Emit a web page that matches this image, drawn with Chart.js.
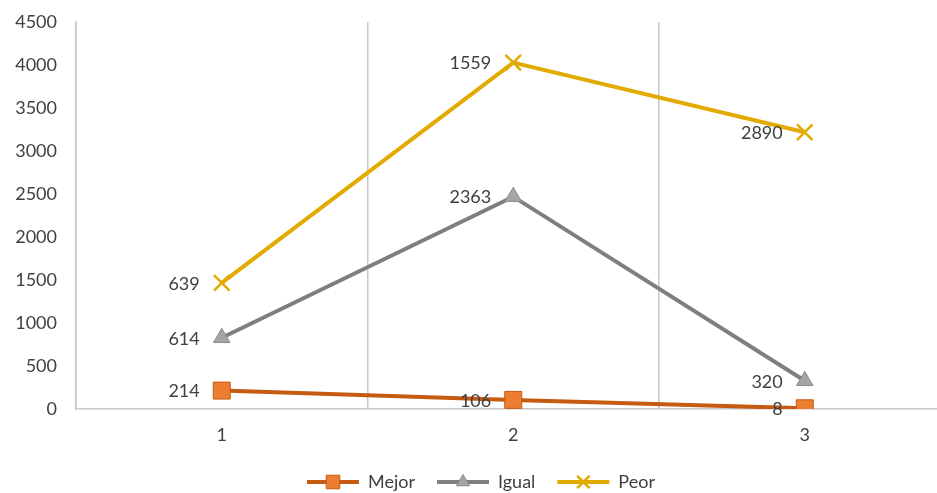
<!DOCTYPE html>
<html>
<head>
<meta charset="utf-8">
<script src="https://cdn.jsdelivr.net/npm/chart.js@4"></script>
<style>
  html, body { margin: 0; padding: 0; background: #fff; overflow: hidden; }
  #wrap { width: 964px; height: 493px; }
</style>
</head>
<body>
<div id="wrap"><canvas id="lineChart" width="964" height="493"></canvas></div>
<script>
// data (stacked line, labels show the raw values)
const categories = ['1', '2', '3'];
const mejor = [214, 106, 8];
const igual = [614, 2363, 320];
const peor = [639, 1559, 2890];
const yTicks = [0, 500, 1000, 1500, 2000, 2500, 3000, 3500, 4000, 4500];

const FONT = 'Lato, "Open Sans", sans-serif';
const TEXT = '#404040';

//labels to the left of each point
const pointLabels = {
  id: 'pointLabels',
  afterDatasetsDraw(chart) {
    const ctx = chart.ctx;
    ctx.save();
    ctx.font = '18px ' + FONT;
    ctx.fillStyle = TEXT;
    ctx.textAlign = 'right';
    ctx.textBaseline = 'middle';
    chart.data.datasets.forEach((ds, i) => {
      chart.getDatasetMeta(i).data.forEach((pt, j) => {
        ctx.fillText(String(ds.data[j]), pt.x - 22, pt.y + 1);
      });
    });
    ctx.restore();
  }
};

// excel style legend: line with marker in the middle
const lineLegend = {
  id: 'lineLegend',
  afterDraw(chart) {
    const ctx = chart.ctx;
    ctx.save();
    ctx.font = '18px ' + FONT;
    ctx.textBaseline = 'middle';
    let x = 307;
    const y = 482;
    chart.data.datasets.forEach(ds => {
      ctx.strokeStyle = ds.borderColor;
      ctx.lineWidth = 4;
      ctx.beginPath();
      ctx.moveTo(x, y);
      ctx.lineTo(x + 52, y);
      ctx.stroke();
      ctx.fillStyle = ds.pointBackgroundColor;
      ctx.strokeStyle = ds.pointBorderColor;
      ctx.lineWidth = ds.pointBorderWidth;
      Chart.helpers.drawPoint(ctx, {
        pointStyle: ds.pointStyle,
        radius: ds.pointRadius * 0.8,
        borderWidth: ds.pointBorderWidth,
        rotation: 0
      }, x + 26, y);
      ctx.fillStyle = TEXT;
      ctx.textAlign = 'left';
      ctx.fillText(ds.label, x + 61, y);
      x += 61 + ctx.measureText(ds.label).width + 22;
    });
    ctx.restore();
  }
};

const lineData = {
  labels: categories,
  datasets: [
    {
      label: 'Mejor',
      data: mejor,
      borderColor: '#C55A11',
      borderWidth: 4,
      pointStyle: 'rect',
      pointRadius: 12,
      pointBackgroundColor: '#ED7D31',
      pointBorderColor: '#C55A11',
      pointBorderWidth: 1,
    },
    {
      label: 'Igual',
      data: igual,
      borderColor: '#7F7F7F',
      borderWidth: 4,
      pointStyle: 'triangle',
      pointRadius: 9.5,
      pointBackgroundColor: '#A5A5A5',
      pointBorderColor: '#8C8C8C',
      pointBorderWidth: 1,
    },
    {
      label: 'Peor',
      data: peor,
      borderColor: '#E3AA00',
      borderWidth: 4,
      pointStyle: 'crossRot',
      pointRadius: 11,
      pointBackgroundColor: '#E3AA00',
      pointBorderColor: '#E3AA00',
      pointBorderWidth: 2.5,
    },
  ],
};

const lineConfig = {
  type: 'line',
  data: lineData,
  options: {
    responsive: false,
    animation: false,
    layout: { padding: { top: 22, right: 5, left: 0, bottom: 0 } },
    plugins: {
      legend: { display: false },
      tooltip: { enabled: false },
    },
    scales: {
      x: {
        offset: true,
        grid: { offset: true, color: '#C8C8C8', lineWidth: 1.5, drawTicks: false },
        border: { color: '#C8C8C8', width: 1.5 },
        ticks: { font: { family: FONT, size: 18 }, color: TEXT, padding: 15 },
        afterFit: s => { s.height = 84; },
      },
      y: {
        stacked: true,
        min: 0,
        max: 4500,
        grid: { display: false, drawTicks: false },
        border: { color: '#C8C8C8', width: 1.5 },
        afterBuildTicks: s => { s.ticks = yTicks.map(v => ({ value: v })); },
        ticks: {
          font: { family: FONT, size: 18 },
          color: TEXT,
          padding: 19,
          callback: v => String(v),
        },
        afterFit: s => { s.width = 76; s.paddingTop = 10; s.paddingBottom = 10; },
      },
    },
  },
  plugins: [pointLabels, lineLegend],
};

const ctx = document.getElementById('lineChart').getContext('2d');
new Chart(ctx, lineConfig);
</script>
</body>
</html>
